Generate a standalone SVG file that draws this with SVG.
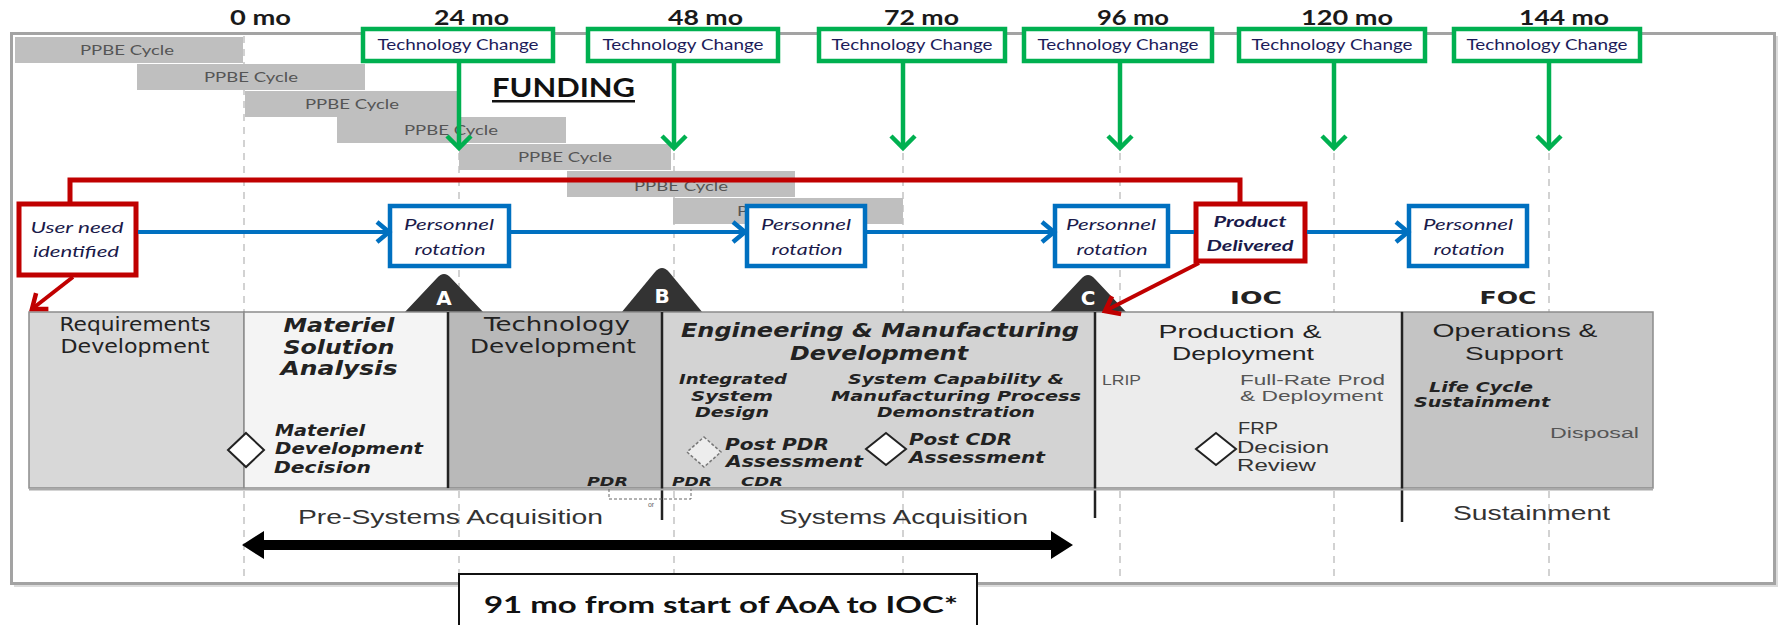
<svg xmlns="http://www.w3.org/2000/svg" width="1781" height="625" viewBox="0 0 1781 625">
<defs>
<style>
.cal{font-family:Lato,"Open Sans","Liberation Sans",sans-serif}
.dv{font-family:"DejaVu Sans","Liberation Sans",sans-serif}
.ar{font-family:"Liberation Sans",Arial,sans-serif}
.mo{font-size:21px;font-weight:bold;fill:#1a1a1a}
.tc{font-size:15px;fill:#1c1c5a}
.ppbe{font-size:14px;fill:#555}
.bar{fill:#bfbfbf}
.tbox{fill:#fff;stroke:#00b050;stroke-width:4.5}
.garr{fill:none;stroke:#00b050;stroke-width:4.5}
.dash{stroke:#c4c4c4;stroke-width:1.5;stroke-dasharray:7 6;fill:none}
.pbox{fill:#fff;stroke:#0070c0;stroke-width:4.5}
.rbox{fill:#fff;stroke:#c00000;stroke-width:5}
.blue{stroke:#0070c0;stroke-width:4;fill:none}
.red{stroke:#c00000;stroke-width:4;fill:none}
.it{font-style:italic;font-size:16px;fill:#1a1a4a}
.ph{stroke:#8c8c8c;stroke-width:1.5}
.hd{font-size:19px;fill:#222}
.bi{font-style:italic;font-weight:bold;fill:#222}
.sm{font-size:15px;fill:#555}
.blk{stroke:#222;stroke-width:2.5}
.dia{fill:#fff;stroke:#222;stroke-width:2}
.tri{fill:#333}
.lt{font-size:20px;font-weight:bold;fill:#fff}
</style>
<marker id="mg" markerWidth="30" markerHeight="30" refX="15" refY="15" orient="auto" markerUnits="userSpaceOnUse"><path d="M3,3 L15,15 L3,27" fill="none" stroke="#00b050" stroke-width="4.5"/></marker>
<marker id="mb" markerWidth="30" markerHeight="30" refX="16" refY="15" orient="auto" markerUnits="userSpaceOnUse"><path d="M4,5 L16,15 L4,25" fill="none" stroke="#0070c0" stroke-width="4.5"/></marker>
<marker id="mr" markerWidth="30" markerHeight="30" refX="16" refY="15" orient="auto" markerUnits="userSpaceOnUse"><path d="M3,5 L16,15 L3,25" fill="none" stroke="#c00000" stroke-width="4.5"/></marker>
</defs>
<rect width="1781" height="625" fill="#fff"/>

<g id="timeline-grid">
<path class="dash" d="M244 36V583M459 36V583M674 36V583M903 36V583M1120 36V583M1334 36V583M1549 36V583"/>
</g>

<g id="frame">
<rect x="11.5" y="33.5" width="1763" height="550" fill="none" stroke="#a3a3a3" stroke-width="3"/>
<path d="M14 586H1777V36" fill="none" stroke="#dcdcdc" stroke-width="2"/>
</g>

<g id="month-labels" class="cal mo">
<text x="230" y="25" textLength="61" lengthAdjust="spacingAndGlyphs">0 mo</text>
<text x="434" y="25" textLength="75" lengthAdjust="spacingAndGlyphs">24 mo</text>
<text x="668" y="25" textLength="75" lengthAdjust="spacingAndGlyphs">48 mo</text>
<text x="884" y="25" textLength="75" lengthAdjust="spacingAndGlyphs">72 mo</text>
<text x="1097" y="25" textLength="72" lengthAdjust="spacingAndGlyphs">96 mo</text>
<text x="1301" y="25" textLength="92" lengthAdjust="spacingAndGlyphs">120 mo</text>
<text x="1519" y="25" textLength="90" lengthAdjust="spacingAndGlyphs">144 mo</text>
</g>

<g id="ppbe-cycles" class="cal ppbe" text-anchor="middle">
<g id="ppbe1"><rect class="bar" x="15" y="37" width="228" height="26"/><text x="127" y="55" textLength="94" lengthAdjust="spacingAndGlyphs">PPBE Cycle</text></g>
<g id="ppbe2"><rect class="bar" x="137" y="64" width="228" height="26"/><text x="251" y="82" textLength="94" lengthAdjust="spacingAndGlyphs">PPBE Cycle</text></g>
<g id="ppbe3"><rect class="bar" x="245" y="91" width="214" height="26"/><text x="352" y="109" textLength="94" lengthAdjust="spacingAndGlyphs">PPBE Cycle</text></g>
<g id="ppbe4"><rect class="bar" x="337" y="117" width="229" height="26"/><text x="451" y="135" textLength="94" lengthAdjust="spacingAndGlyphs">PPBE Cycle</text></g>
<g id="ppbe5"><rect class="bar" x="459" y="144" width="212" height="26"/><text x="565" y="162" textLength="94" lengthAdjust="spacingAndGlyphs">PPBE Cycle</text></g>
<g id="ppbe6"><rect class="bar" x="567" y="171" width="228" height="26"/><text x="681" y="191" textLength="94" lengthAdjust="spacingAndGlyphs">PPBE Cycle</text></g>
<g id="ppbe7"><rect class="bar" x="673" y="198" width="230" height="26"/><text x="784" y="216" textLength="94" lengthAdjust="spacingAndGlyphs">PPBE Cycle</text></g>
</g>

<g id="funding">
<text class="cal" x="492" y="97" font-size="27" font-weight="bold" fill="#111" textLength="143" lengthAdjust="spacingAndGlyphs">FUNDING</text>
<rect x="492" y="100" width="143" height="2.5" fill="#111"/>
</g>

<g id="tech-changes" class="cal tc" text-anchor="middle">
<g id="tc1"><rect class="tbox" x="363" y="29" width="190" height="32"/><text x="458" y="50" textLength="161" lengthAdjust="spacingAndGlyphs">Technology Change</text></g>
<g id="tc2"><rect class="tbox" x="588" y="29" width="190" height="32"/><text x="683" y="50" textLength="161" lengthAdjust="spacingAndGlyphs">Technology Change</text></g>
<g id="tc3"><rect class="tbox" x="819" y="29" width="186" height="32"/><text x="912" y="50" textLength="161" lengthAdjust="spacingAndGlyphs">Technology Change</text></g>
<g id="tc4"><rect class="tbox" x="1024" y="29" width="188" height="32"/><text x="1118" y="50" textLength="161" lengthAdjust="spacingAndGlyphs">Technology Change</text></g>
<g id="tc5"><rect class="tbox" x="1239" y="29" width="186" height="32"/><text x="1332" y="50" textLength="161" lengthAdjust="spacingAndGlyphs">Technology Change</text></g>
<g id="tc6"><rect class="tbox" x="1454" y="29" width="186" height="32"/><text x="1547" y="50" textLength="161" lengthAdjust="spacingAndGlyphs">Technology Change</text></g>
</g>

<g id="user-need" class="cal it" text-anchor="middle">
<rect class="rbox" x="19" y="204" width="117" height="71"/>
<text x="77" y="233" textLength="93" lengthAdjust="spacingAndGlyphs">User need</text>
<text x="76" y="257" textLength="86" lengthAdjust="spacingAndGlyphs">identified</text>
</g>
<g id="personnel1" class="cal it" text-anchor="middle">
<rect class="pbox" x="390" y="206" width="119" height="60"/>
<text x="449" y="230" textLength="90" lengthAdjust="spacingAndGlyphs">Personnel</text>
<text x="450" y="255" textLength="71" lengthAdjust="spacingAndGlyphs">rotation</text>
</g>
<g id="personnel2" class="cal it" text-anchor="middle">
<rect class="pbox" x="747" y="206" width="118" height="60"/>
<text x="806" y="230" textLength="90" lengthAdjust="spacingAndGlyphs">Personnel</text>
<text x="807" y="255" textLength="71" lengthAdjust="spacingAndGlyphs">rotation</text>
</g>
<g id="personnel3" class="cal it" text-anchor="middle">
<rect class="pbox" x="1055" y="206" width="113" height="60"/>
<text x="1111" y="230" textLength="90" lengthAdjust="spacingAndGlyphs">Personnel</text>
<text x="1112" y="255" textLength="71" lengthAdjust="spacingAndGlyphs">rotation</text>
</g>
<g id="product-delivered" class="cal it" text-anchor="middle" font-weight="bold">
<rect class="rbox" x="1196" y="204" width="109" height="57"/>
<text x="1250" y="227" textLength="73" lengthAdjust="spacingAndGlyphs">Product</text>
<text x="1250" y="251" textLength="87" lengthAdjust="spacingAndGlyphs">Delivered</text>
</g>
<g id="personnel4" class="cal it" text-anchor="middle">
<rect class="pbox" x="1409" y="206" width="118" height="60"/>
<text x="1468" y="230" textLength="90" lengthAdjust="spacingAndGlyphs">Personnel</text>
<text x="1469" y="255" textLength="71" lengthAdjust="spacingAndGlyphs">rotation</text>
</g>

<g id="milestones" class="dv lt" text-anchor="middle">
<g id="ms-a"><path class="tri" d="M404 313L437 278Q444 270 451 278L484 313Z"/><text x="444" y="305">A</text></g>
<g id="ms-b"><path class="tri" d="M621 313L655 272Q662 264 669 272L703 313Z"/><text x="662" y="303">B</text></g>
<g id="ms-c"><path class="tri" d="M1049 313L1081 279Q1088 271 1095 279L1127 313Z"/><text x="1088" y="305">C</text></g>
</g>

<g id="phase-requirements">
<rect class="ph" x="29" y="312" width="215" height="176" fill="#d8d8d8"/>
<g class="dv hd" text-anchor="middle">
<text x="135" y="331" textLength="151" lengthAdjust="spacingAndGlyphs">Requirements</text>
<text x="135" y="353" textLength="149" lengthAdjust="spacingAndGlyphs">Development</text>
</g>
</g>
<g id="phase-msa">
<rect class="ph" x="244" y="312" width="204" height="176" fill="#f4f4f4"/>
<g class="dv bi" font-size="19" text-anchor="middle">
<text x="339" y="332" textLength="111" lengthAdjust="spacingAndGlyphs">Materiel</text>
<text x="339" y="354" textLength="111" lengthAdjust="spacingAndGlyphs">Solution</text>
<text x="339" y="375" textLength="117" lengthAdjust="spacingAndGlyphs">Analysis</text>
</g>
<path class="dia" d="M246 433L264 450L246 467L228 450Z"/>
<g class="dv bi" font-size="15">
<text x="275" y="436" textLength="90" lengthAdjust="spacingAndGlyphs">Materiel</text>
<text x="275" y="454" textLength="148" lengthAdjust="spacingAndGlyphs">Development</text>
<text x="274" y="473" textLength="97" lengthAdjust="spacingAndGlyphs">Decision</text>
</g>
</g>
<g id="phase-td">
<rect class="ph" x="448" y="312" width="214" height="176" fill="#b9b9b9"/>
<g class="dv hd" text-anchor="middle">
<text x="557" y="331" textLength="146" lengthAdjust="spacingAndGlyphs">Technology</text>
<text x="553" y="353" textLength="166" lengthAdjust="spacingAndGlyphs">Development</text>
</g>
<text class="dv bi" x="587" y="486" font-size="13" textLength="41" lengthAdjust="spacingAndGlyphs">PDR</text>
</g>
<g id="phase-emd">
<rect class="ph" x="662" y="312" width="433" height="176" fill="#d3d3d3"/>
<g class="dv bi" font-size="20" text-anchor="middle">
<text x="880" y="337" textLength="398" lengthAdjust="spacingAndGlyphs">Engineering &amp; Manufacturing</text>
<text x="879" y="360" textLength="178" lengthAdjust="spacingAndGlyphs">Development</text>
</g>
<g class="dv bi" font-size="14" text-anchor="middle">
<text x="733" y="384" textLength="108" lengthAdjust="spacingAndGlyphs">Integrated</text>
<text x="732" y="401" textLength="82" lengthAdjust="spacingAndGlyphs">System</text>
<text x="732" y="417" textLength="74" lengthAdjust="spacingAndGlyphs">Design</text>
<text x="956" y="384" textLength="216" lengthAdjust="spacingAndGlyphs">System Capability &amp;</text>
<text x="956" y="401" textLength="250" lengthAdjust="spacingAndGlyphs">Manufacturing Process</text>
<text x="956" y="417" textLength="158" lengthAdjust="spacingAndGlyphs">Demonstration</text>
</g>
<path d="M704 437L721 452L704 467L687 452Z" fill="#ededed" stroke="#777" stroke-width="1.5" stroke-dasharray="3 2"/>
<path class="dia" d="M886 433L906 449L886 465L866 449Z"/>
<g class="dv bi" font-size="16">
<text x="725" y="450" textLength="104" lengthAdjust="spacingAndGlyphs">Post PDR</text>
<text x="726" y="467" textLength="137" lengthAdjust="spacingAndGlyphs">Assessment</text>
<text x="909" y="445" textLength="103" lengthAdjust="spacingAndGlyphs">Post CDR</text>
<text x="909" y="463" textLength="136" lengthAdjust="spacingAndGlyphs">Assessment</text>
</g>
<g class="dv bi" font-size="13">
<text x="672" y="486" textLength="40" lengthAdjust="spacingAndGlyphs">PDR</text>
<text x="741" y="486" textLength="42" lengthAdjust="spacingAndGlyphs">CDR</text>
</g>
</g>
<g id="phase-pd">
<rect class="ph" x="1095" y="312" width="307" height="176" fill="#ececec"/>
<g class="ar hd" text-anchor="middle">
<text x="1240" y="338" textLength="163" lengthAdjust="spacingAndGlyphs">Production &amp;</text>
<text x="1243" y="360" textLength="142" lengthAdjust="spacingAndGlyphs">Deployment</text>
</g>
<text class="ar sm" x="1102" y="385" textLength="39" lengthAdjust="spacingAndGlyphs">LRIP</text>
<text class="ar sm" x="1240" y="385" textLength="145" lengthAdjust="spacingAndGlyphs">Full-Rate Prod</text>
<text class="ar sm" x="1240" y="401" textLength="143" lengthAdjust="spacingAndGlyphs">&amp; Deployment</text>
<path class="dia" d="M1216 433L1236 449L1216 465L1196 449Z"/>
<g class="ar" font-size="17" fill="#333">
<text x="1238" y="434" textLength="40" lengthAdjust="spacingAndGlyphs">FRP</text>
<text x="1237" y="453" textLength="92" lengthAdjust="spacingAndGlyphs">Decision</text>
<text x="1237" y="471" textLength="79" lengthAdjust="spacingAndGlyphs">Review</text>
</g>
<text class="dv" x="1256" y="304" font-size="18" font-weight="bold" fill="#222" text-anchor="middle" textLength="52" lengthAdjust="spacingAndGlyphs">IOC</text>
</g>
<g id="phase-os">
<rect class="ph" x="1402" y="312" width="251" height="176" fill="#c4c4c4"/>
<g class="ar hd" text-anchor="middle">
<text x="1515" y="337" textLength="165" lengthAdjust="spacingAndGlyphs">Operations &amp;</text>
<text x="1514" y="360" textLength="98" lengthAdjust="spacingAndGlyphs">Support</text>
</g>
<g class="dv bi" font-size="14">
<text x="1429" y="392" textLength="104" lengthAdjust="spacingAndGlyphs">Life Cycle</text>
<text x="1414" y="407" textLength="136" lengthAdjust="spacingAndGlyphs">Sustainment</text>
</g>
<text class="ar sm" x="1550" y="438" textLength="89" lengthAdjust="spacingAndGlyphs">Disposal</text>
<text class="dv" x="1508" y="304" font-size="18" font-weight="bold" fill="#222" text-anchor="middle" textLength="57" lengthAdjust="spacingAndGlyphs">FOC</text>
</g>

<g id="phase-dividers">
<line class="blk" x1="448" y1="312" x2="448" y2="488"/>
<line class="blk" x1="662" y1="312" x2="662" y2="520"/>
<line class="blk" x1="1095" y1="312" x2="1095" y2="518"/>
<line class="blk" x1="1402" y1="312" x2="1402" y2="522"/>
<path d="M29 489.5H1653" stroke="#aaa" stroke-width="2"/>
<path d="M609 489V499H691V489" fill="none" stroke="#666" stroke-width="1" stroke-dasharray="3 2"/>
<text class="ar" x="651" y="507" font-size="7" fill="#666" text-anchor="middle">or</text>
</g>

<g id="acquisition-labels" class="ar" font-size="20" fill="#333">
<text x="298" y="524" textLength="305" lengthAdjust="spacingAndGlyphs">Pre-Systems Acquisition</text>
<text x="779" y="524" textLength="249" lengthAdjust="spacingAndGlyphs">Systems Acquisition</text>
<text x="1453" y="520" textLength="157" lengthAdjust="spacingAndGlyphs">Sustainment</text>
</g>

<g id="connectors">
<g id="tech-arrows">
<line class="garr" x1="459" y1="62" x2="459" y2="148" marker-end="url(#mg)"/>
<line class="garr" x1="674" y1="62" x2="674" y2="148" marker-end="url(#mg)"/>
<line class="garr" x1="903" y1="62" x2="903" y2="148" marker-end="url(#mg)"/>
<line class="garr" x1="1120" y1="62" x2="1120" y2="148" marker-end="url(#mg)"/>
<line class="garr" x1="1334" y1="62" x2="1334" y2="148" marker-end="url(#mg)"/>
<line class="garr" x1="1549" y1="62" x2="1549" y2="148" marker-end="url(#mg)"/>
</g>
<path id="red-bracket" d="M70 202V180H1240V202" fill="none" stroke="#c00000" stroke-width="5"/>
<g id="blue-flow">
<line class="blue" x1="138" y1="232" x2="389" y2="232" marker-end="url(#mb)"/>
<line class="blue" x1="511" y1="232" x2="745" y2="232" marker-end="url(#mb)"/>
<line class="blue" x1="867" y1="232" x2="1054" y2="232" marker-end="url(#mb)"/>
<line class="blue" x1="1170" y1="232" x2="1194" y2="232"/>
<line class="blue" x1="1307" y1="232" x2="1408" y2="232" marker-end="url(#mb)"/>
</g>
<line class="red" x1="73" y1="277" x2="32" y2="309" marker-end="url(#mr)"/>
<line class="red" x1="1199" y1="263" x2="1105" y2="311" marker-end="url(#mr)"/>
</g>

<g id="duration-arrow">
<path d="M242 545L264 531V540H1051V531L1073 545L1051 559V550H264V559Z" fill="#000"/>
</g>

<g id="duration-note">
<rect x="459" y="574" width="518" height="70" fill="#fff" stroke="#111" stroke-width="2"/>
<text class="cal" x="484" y="613" font-size="23" font-weight="bold" fill="#111" textLength="474" lengthAdjust="spacingAndGlyphs">91 mo from start of AoA to IOC*</text>
</g>
</svg>
